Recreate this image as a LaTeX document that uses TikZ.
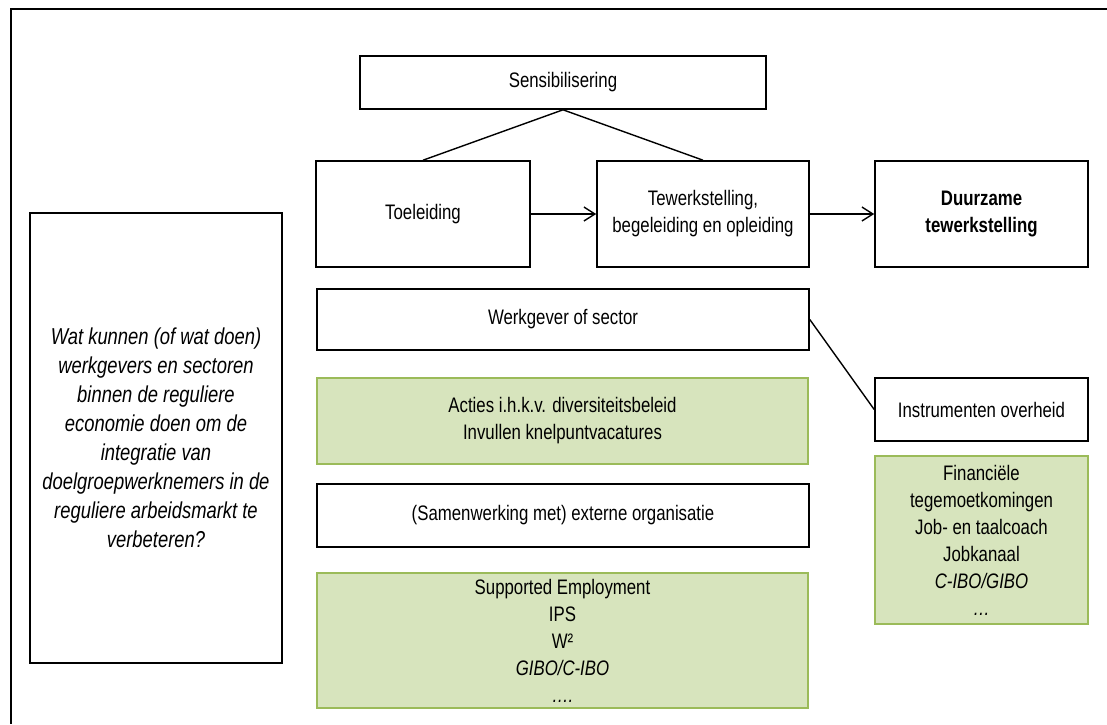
\documentclass[tikz,border=0pt]{standalone}
\usepackage{fontspec}
\setmainfont{Liberation Sans}[FakeStretch=0.8]
\usetikzlibrary{arrows.meta}
\definecolor{gfill}{HTML}{D7E4BD}
\definecolor{gline}{HTML}{9BBB59}
\begin{document}
\begin{tikzpicture}[x=1pt,y=-1pt,
  box/.style={draw=black, line width=1.6pt, fill=white, inner sep=0pt, align=center,
    font=\fontsize{21}{27}\selectfont},
  gbox/.style={box, draw=gline, fill=gfill},
  conn/.style={line width=1.4pt},
  arr/.style={conn, -{Straight Barb[length=11pt,width=14pt,line width=1.4pt]}}]
\useasboundingbox (0,0) rectangle (1107,724);
% outer frame (cropped at right and bottom)
\draw[line width=2pt] (1107,9) -- (11,9) -- (11,724);

\node[box, minimum width=406pt, minimum height=53pt] (sens) at (563,82.5) {Sensibilisering};
\node[box, minimum width=214pt, minimum height=106pt] (toel) at (423,214) {Toeleiding};
\node[box, minimum width=212pt, minimum height=106pt] (tew) at (703,214) {Tewerkstelling,\\begeleiding en opleiding};
\node[box, minimum width=213pt, minimum height=106pt, font=\fontsize{21}{27}\selectfont\bfseries] (duur) at (981.5,214) {Duurzame\\tewerkstelling};

\node[box, minimum width=252pt, minimum height=450pt, font=\fontsize{23}{29}\selectfont\itshape] (vraag) at (156,438)
  {Wat kunnen (of wat doen)\\werkgevers en sectoren\\binnen de reguliere\\economie doen om de\\integratie van\\doelgroepwerknemers in de\\reguliere arbeidsmarkt te\\verbeteren?};

\node[box, minimum width=492pt, minimum height=61pt] (werk) at (563,319.5) {Werkgever of sector};
\node[gbox, minimum width=491pt, minimum height=86pt] (g1) at (562.5,421) {Acties i.h.k.v. diversiteitsbeleid\\Invullen knelpuntvacatures};
\node[box, minimum width=492pt, minimum height=63pt] (samen) at (563,515.5) {(Samenwerking met) externe organisatie};
\node[gbox, minimum width=491pt, minimum height=135pt] (g2) at (562.5,640.5) {Supported Employment\\IPS\\W²\\\textit{GIBO/C-IBO}\\\textit{….}};

\node[box, minimum width=213pt, minimum height=63pt] (instr) at (981.5,409.5) {Instrumenten overheid};
\node[gbox, minimum width=213pt, minimum height=168pt] (g3) at (981.5,540) {Financiële\\tegemoetkomingen\\Job- en taalcoach\\Jobkanaal\\\textit{C-IBO/GIBO}\\\textit{…}};

\draw[conn] (sens.south) -- (toel.north);
\draw[conn] (sens.south) -- (tew.north);
\draw[arr] (toel) -- (tew);
\draw[arr] (tew) -- (duur);
\draw[conn] (werk.east) -- (instr.west);
\end{tikzpicture}
\end{document}
